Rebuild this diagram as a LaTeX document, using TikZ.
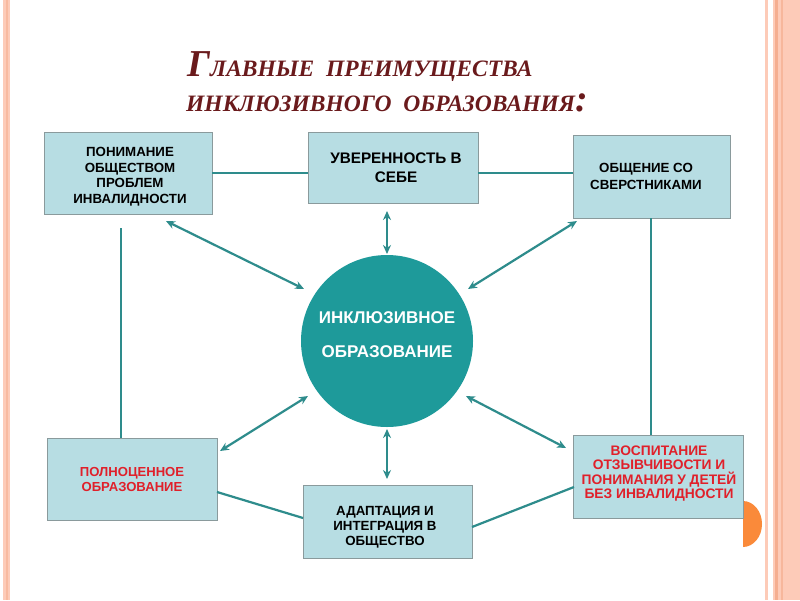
\documentclass[tikz,border=0pt]{standalone}
\usepackage{fontspec}
\setmainfont{Liberation Sans}
\newfontfamily\titlefont{Liberation Serif}
\usetikzlibrary{arrows.meta}
\definecolor{boxfill}{HTML}{B7DDE3}
\definecolor{boxline}{HTML}{8A9A9C}
\definecolor{teal1}{HTML}{1E9A9A}
\definecolor{conn}{HTML}{2E8C8C}
\definecolor{titlered}{HTML}{6A1A1C}
\definecolor{redtext}{HTML}{E0202A}
\definecolor{salmon}{HTML}{FDCBB8}
\definecolor{salmondark}{HTML}{F5AE90}
\definecolor{orangedot}{HTML}{FA8A3A}
\tikzset{
  infobox/.style={draw=boxline, line width=0.9pt, fill=boxfill, rectangle, inner sep=0pt},
  boxtext/.style={align=center, inner sep=0pt, font=\bfseries\fontsize{13.3}{15.5}\selectfont},
  redtxt/.style={boxtext, text=redtext},
  link/.style={draw=conn, line width=2.2pt},
  dbl/.style={draw=conn, line width=2.2pt, {Stealth[length=9pt,width=8pt]}-{Stealth[length=9pt,width=8pt]}},
}
\newcommand{\smc}[1]{{\fontsize{23.5}{23.5}\selectfont #1}}
\begin{document}
\begin{tikzpicture}[x=1pt,y=-1pt]
\useasboundingbox (0,0) rectangle (800,600);
\fill[white] (0,0) rectangle (800,600);
% side stripes
\fill[salmon] (3,0) rectangle (10,600);
\fill[salmondark!60!salmon] (5.5,0) rectangle (7.5,600);
\fill[salmon] (765,0) rectangle (768,600);
\fill[salmon] (773,0) rectangle (800,600);
\fill[salmondark] (775,0) rectangle (778,600);
\fill[salmondark!70!salmon] (781,0) rectangle (783,600);
% orange half disc
\fill[orangedot] (743,501) arc[start angle=-90, end angle=90, x radius=19, y radius=23] -- cycle;
% title
\node[anchor=base west, text=titlered, inner sep=0pt] (t1) at (187,76)
  {\titlefont\bfseries\itshape\fontsize{38}{38}\selectfont Г\smc{ЛАВНЫЕ\ \ ПРЕИМУЩЕСТВА}};
\node[anchor=base west, text=titlered, inner sep=0pt] (t2) at (186,111)
  {\titlefont\bfseries\itshape\fontsize{38}{38}\selectfont \smc{ИНКЛЮЗИВНОГО\ \ ОБРАЗОВАНИЯ}:};
% boxes
\node[infobox, minimum width=168pt, minimum height=82pt] (b1) at (128,173) {};
\node[boxtext] (b1t) at (130,176.5) {ПОНИМАНИЕ\\ОБЩЕСТВОМ\\ПРОБЛЕМ\\ИНВАЛИДНОСТИ};
\node[infobox, minimum width=170pt, minimum height=71pt] (b2) at (393,167.5) {};
\node[boxtext, font=\bfseries\fontsize{15.3}{19}\selectfont] (b2t) at (396,167.5) {УВЕРЕННОСТЬ В\\СЕБЕ};
\node[infobox, minimum width=157pt, minimum height=83pt] (b3) at (651.5,176.5) {};
\node[boxtext, font=\bfseries\fontsize{13.3}{17}\selectfont] (b3t) at (646,176.5) {ОБЩЕНИЕ СО\\СВЕРСТНИКАМИ};
\node[infobox, minimum width=170pt, minimum height=82pt] (b4) at (132,479) {};
\node[redtxt, font=\bfseries\fontsize{13.1}{15.5}\selectfont] (b4t) at (132,479.5) {ПОЛНОЦЕННОЕ\\ОБРАЗОВАНИЕ};
\node[infobox, minimum width=169pt, minimum height=73pt] (b5) at (387.5,521.5) {};
\node[boxtext, font=\bfseries\fontsize{13.3}{15}\selectfont] (b5t) at (385,527) {АДАПТАЦИЯ И\\ИНТЕГРАЦИЯ В\\ОБЩЕСТВО};
\node[infobox, minimum width=170pt, minimum height=83pt] (b6) at (658,476.5) {};
\node[redtxt, font=\bfseries\fontsize{13.8}{14.5}\selectfont] (b6t) at (659,473.5) {ВОСПИТАНИЕ\\ОТЗЫВЧИВОСТИ И\\ПОНИМАНИЯ У ДЕТЕЙ\\БЕЗ ИНВАЛИДНОСТИ};
% circle
\node[circle, fill=teal1, minimum size=172pt, inner sep=0pt] (c) at (387,341) {};
\node[align=center, inner sep=0pt, text=white, font=\bfseries\fontsize{17}{34}\selectfont] (ct) at (387,335)
  {ИНКЛЮЗИВНОЕ\\ОБРАЗОВАНИЕ};
% connector coordinates
\coordinate (b1r) at (b1.east |- 0,173);
\coordinate (b2l) at (b2.west |- 0,173);
\coordinate (b2r) at (b2.east |- 0,173);
\coordinate (b3l) at (b3.west |- 0,173);
\coordinate (b1b) at (121,228);
\coordinate (b4t) at (b4.north -| 121,0);
\coordinate (b3b) at (b3.south -| 651,0);
\coordinate (b6t) at (b6.north -| 651,0);
\coordinate (b4r) at (217,492);
\coordinate (b5l) at (303,518);
\coordinate (b5r) at (472,527);
\coordinate (b6l) at (574,487);
% plain links
\draw[link] (b1r) -- (b2l);
\draw[link] (b2r) -- (b3l);
\draw[link] (b1b) -- (b4t);
\draw[link] (b3b) -- (b6t);
\draw[link] (b4r) -- (b5l);
\draw[link] (b5r) -- (b6l);
% double arrows
\coordinate (a1s) at (387,211);
\coordinate (a1e) at (387,254);
\coordinate (a2s) at (387,429);
\coordinate (a2e) at (387,479);
\coordinate (a3s) at (166,221);
\coordinate (a3e) at (304,289);
\coordinate (a4s) at (577,221);
\coordinate (a4e) at (468,289);
\coordinate (a5s) at (220,451);
\coordinate (a5e) at (308,396);
\coordinate (a6s) at (566,448);
\coordinate (a6e) at (466,396);
\draw[dbl] (a1s) -- (a1e);
\draw[dbl] (a2s) -- (a2e);
\draw[dbl] (a3s) -- (a3e);
\draw[dbl] (a4s) -- (a4e);
\draw[dbl] (a5s) -- (a5e);
\draw[dbl] (a6s) -- (a6e);
\end{tikzpicture}
\end{document}
